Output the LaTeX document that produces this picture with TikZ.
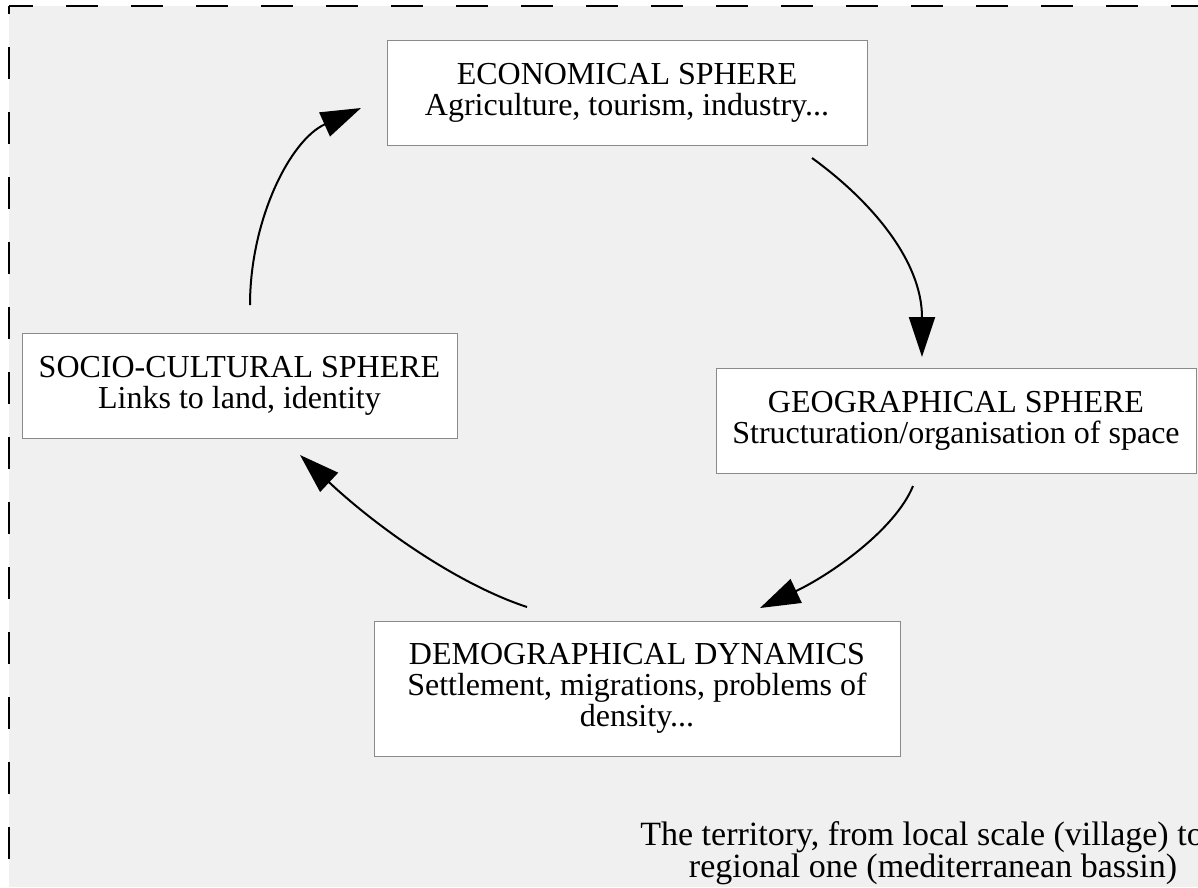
\documentclass[tikz,border=0pt]{standalone}
\usepackage{fontspec}
\setmainfont{Liberation Serif}
\usetikzlibrary{arrows.meta}
\definecolor{bg}{HTML}{F0F0F0}
\definecolor{boxline}{HTML}{8A8A8A}
\begin{document}
\begin{tikzpicture}[x=1pt,y=-1pt,
  sphere/.style={draw=boxline,line width=1pt,fill=white,align=center,inner sep=0pt,font=\fontsize{32}{31}\selectfont},
  caption/.style={anchor=base,inner sep=0pt,font=\fontsize{34}{33}\selectfont},
  flow/.style={line width=2pt,-{Triangle[length=40pt,width=26pt]}},
  border/.style={line width=2pt,dash pattern=on 32pt off 33pt}]
\useasboundingbox (0,0) rectangle (1198,887);
\fill[bg] (9,6) rectangle (1198,887);
\draw[border,dash phase=8pt] (9,6) -- (1198,6);
\draw[border,dash phase=24pt] (9,6) -- (9,887);

\node[sphere,minimum width=480pt,minimum height=105pt] (eco) at (627,92.5) {ECONOMICAL SPHERE\\Agriculture, tourism, industry...};
\node[sphere,minimum width=435pt,minimum height=105pt] (soc) at (239.5,385.5) {SOCIO-CULTURAL SPHERE\\Links to land, identity};
\node[sphere,minimum width=480pt,minimum height=105pt] (geo) at (956,420.5) {GEOGRAPHICAL SPHERE\\Structuration/organisation of space};
\node[sphere,minimum width=526pt,minimum height=135pt] (dem) at (637,688.5) {DEMOGRAPHICAL DYNAMICS\\Settlement, migrations, problems of\\density...};

\node[caption] (terr1) at (922,845) {The territory, from local scale (village) to};
\node[caption] (terr2) at (933,877) {regional one (mediterranean bassin)};

\coordinate (a1s) at (250,305); \coordinate (a1e) at (361,108);
\coordinate (a2s) at (812,158); \coordinate (a2e) at (922,357);
\coordinate (a3s) at (913,486); \coordinate (a3e) at (760,608);
\coordinate (a4s) at (527,607); \coordinate (a4e) at (300,455);
\draw[flow] (a1s) .. controls (250,220) and (290,140) .. (a1e);
\draw[flow] (a2s) .. controls (870,200) and (922,260) .. (a2e);
\draw[flow] (a3s) .. controls (895,530) and (830,575) .. (a3e);
\draw[flow] (a4s) .. controls (460,585) and (380,530) .. (a4e);
\end{tikzpicture}
\end{document}
